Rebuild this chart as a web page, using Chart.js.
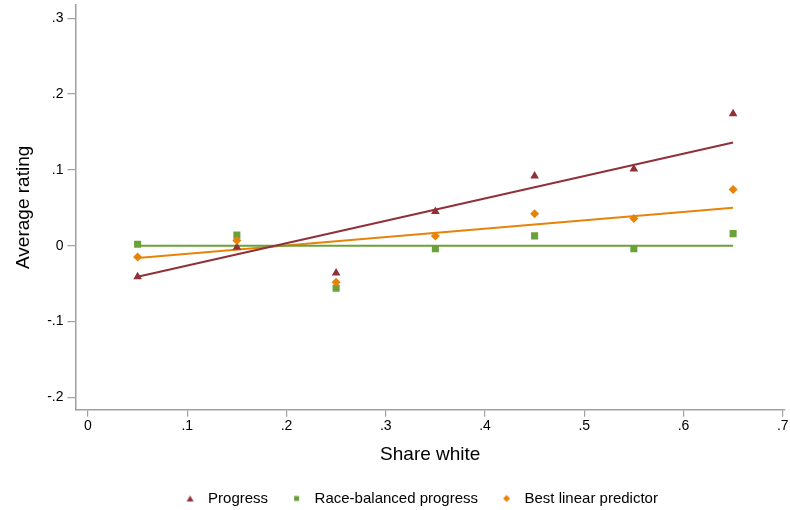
<!DOCTYPE html>
<html>
<head>
<meta charset="utf-8">
<script src="https://cdn.jsdelivr.net/npm/chart.js@4.4.1/dist/chart.umd.min.js"></script>
<style>
  html, body { margin: 0; padding: 0; background: #ffffff; }
  #wrap { width: 790px; height: 510px; }
</style>
</head>
<body>
<div id="wrap"><canvas id="chart" width="790" height="510"></canvas></div>
<script>
// Share white bins (x)
const shareWhite = [0.05, 0.15, 0.25, 0.35, 0.45, 0.55, 0.65];

// Average rating per bin
const progress = [-0.041, -0.002, -0.036, 0.045, 0.092, 0.101, 0.174];
const raceBalanced = [0.002, 0.014, -0.056, -0.004, 0.013, -0.004, 0.016];
const bestLinear = [-0.015, 0.007, -0.048, 0.013, 0.042, 0.036, 0.074];

// Fitted lines (end points at first and last bin)
const fitX = [0.05, 0.65];
const progressFit = [-0.041, 0.136];
const raceBalancedFit = [0, 0];
const bestLinearFit = [-0.016, 0.050];

// Tick labels
const xTicks = [0, 0.1, 0.2, 0.3, 0.4, 0.5, 0.6, 0.7];
const xTickLabels = ['0', '.1', '.2', '.3', '.4', '.5', '.6', '.7'];
const yTicks = [-0.2, -0.1, 0, 0.1, 0.2, 0.3];
const yTickLabels = ['-.2', '-.1', '0', '.1', '.2', '.3'];

const MAROON = '#903038';
const GREEN = '#6aa23a';
const ORANGE = '#e8830a';
const AXIS = '#a0a0a0';
const FONT = "'Liberation Sans', Arial, sans-serif";

function toPoints(xs, ys) {
    return xs.map((x, i) => ({ x: x, y: ys[i] }));
}

function tickLabel(values, labels) {
    return function(value) {
        const idx = values.findIndex(v => Math.abs(v - value) < 1e-9);
        return idx >= 0 ? labels[idx] : '';
    };
}

// small legend marker, drawn as an image so pointStyleWidth only widens the gap
function legendMarker(shape, color) {
    const c = document.createElement('canvas');
    c.width = 16;
    c.height = 16;
    const g = c.getContext('2d');
    const cx = 9.5;
    g.fillStyle = color;
    g.beginPath();
    if (shape === 'triangle') {
        g.moveTo(cx, 5);
        g.lineTo(cx + 3.5, 11);
        g.lineTo(cx - 3.5, 11);
    } else if (shape === 'rect') {
        g.rect(cx - 2.5, 5.5, 5, 5);
    } else {
        g.moveTo(cx, 4.5);
        g.lineTo(cx + 3.5, 8);
        g.lineTo(cx, 11.5);
        g.lineTo(cx - 3.5, 8);
    }
    g.closePath();
    g.fill();
    return c;
}

const legendMarkers = [
    legendMarker('triangle', MAROON),
    legendMarker('rect', GREEN),
    legendMarker('rectRot', ORANGE)
];

// lower order is drawn on top: diamonds over squares over triangles over lines
const datasets = [
    {
        label: 'Progress',
        data: toPoints(shareWhite, progress),
        pointStyle: 'triangle',
        pointRadius: 5,
        backgroundColor: MAROON,
        borderColor: MAROON,
        borderWidth: 0,
        order: 2
    },
    {
        label: 'Race-balanced progress',
        data: toPoints(shareWhite, raceBalanced),
        pointStyle: 'rect',
        pointRadius: 5,
        backgroundColor: GREEN,
        borderColor: GREEN,
        borderWidth: 0,
        order: 1
    },
    {
        label: 'Best linear predictor',
        data: toPoints(shareWhite, bestLinear),
        pointStyle: 'rectRot',
        pointRadius: 4.5,
        backgroundColor: ORANGE,
        borderColor: ORANGE,
        borderWidth: 0,
        order: 0
    },
    {
        type: 'line',
        label: 'fit-progress',
        data: toPoints(fitX, progressFit),
        borderColor: MAROON,
        borderWidth: 2,
        pointRadius: 0,
        fill: false,
        order: 3
    },
    {
        type: 'line',
        label: 'fit-balanced',
        data: toPoints(fitX, raceBalancedFit),
        borderColor: GREEN,
        borderWidth: 2,
        pointRadius: 0,
        fill: false,
        order: 3
    },
    {
        type: 'line',
        label: 'fit-blp',
        data: toPoints(fitX, bestLinearFit),
        borderColor: ORANGE,
        borderWidth: 2,
        pointRadius: 0,
        fill: false,
        order: 3
    }
];

// nudge the legend to where the reference puts it
const legendShift = {
    id: 'legendShift',
    afterLayout(chart) {
        const lg = chart.legend;
        if (!lg) return;
        lg.left -= 13;
        lg.right -= 13;
        lg.top += 6;
        lg.bottom += 6;
    }
};

new Chart(document.getElementById('chart'), {
    type: 'scatter',
    data: { datasets: datasets },
    plugins: [legendShift],
    options: {
        responsive: false,
        animation: false,
        devicePixelRatio: 1,
        layout: { padding: { left: 0, right: 0, top: 3, bottom: 0 } },
        plugins: {
            legend: {
                display: true,
                position: 'bottom',
                fullSize: false,
                labels: {
                    generateLabels: chart => {
                        const items = Chart.defaults.plugins.legend.labels.generateLabels(chart);
                        items.forEach(item => {
                            if (item.datasetIndex < legendMarkers.length) {
                                item.pointStyle = legendMarkers[item.datasetIndex];
                            }
                        });
                        return items;
                    },
                    filter: item => !item.text.startsWith('fit-'),
                    sort: (a, b) => a.datasetIndex - b.datasetIndex,
                    usePointStyle: true,
                    pointStyleWidth: 24,
                    padding: 15,
                    color: '#000000',
                    font: { family: FONT, size: 15 }
                }
            },
            tooltip: { enabled: false }
        },
        scales: {
            x: {
                type: 'linear',
                min: -0.0126,
                max: 0.7023,
                afterBuildTicks: scale => { scale.ticks = xTicks.map(v => ({ value: v })); },
                afterFit: scale => {
                    scale.height = 60.3;
                    scale.paddingLeft = 0;
                    scale.paddingRight = 0;
                },
                border: { display: true, color: AXIS, width: 1.5 },
                grid: { drawOnChartArea: false, drawTicks: true, tickLength: 7, color: AXIS, lineWidth: 1.2 },
                ticks: {
                    color: '#000000',
                    padding: 1.5,
                    font: { family: FONT, size: 14 },
                    callback: tickLabel(xTicks, xTickLabels)
                },
                title: {
                    display: true,
                    text: 'Share white',
                    color: '#000000',
                    padding: { top: 4, bottom: 4 },
                    font: { family: FONT, size: 19 }
                }
            },
            y: {
                type: 'linear',
                min: -0.2161,
                max: 0.3173,
                afterBuildTicks: scale => { scale.ticks = yTicks.map(v => ({ value: v })); },
                afterFit: scale => {
                    scale.width = 75.5;
                    scale.paddingTop = 0;
                    scale.paddingBottom = 0;
                },
                border: { display: true, color: AXIS, width: 1.5 },
                grid: { drawOnChartArea: false, drawTicks: true, tickLength: 8, color: AXIS, lineWidth: 1.2 },
                ticks: {
                    color: '#000000',
                    padding: 4,
                    font: { family: FONT, size: 14 },
                    callback: tickLabel(yTicks, yTickLabels)
                },
                title: {
                    display: true,
                    text: 'Average rating',
                    color: '#000000',
                    padding: { top: 12, bottom: 4 },
                    font: { family: FONT, size: 19 }
                }
            }
        }
    }
});
</script>
</body>
</html>
